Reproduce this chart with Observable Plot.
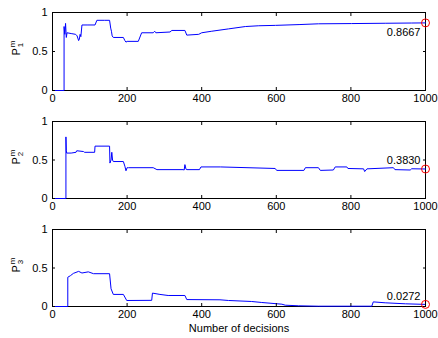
<!DOCTYPE html>
<html>
<head>
<meta charset="utf-8">
<script src="https://cdn.jsdelivr.net/npm/d3@7"></script>
<script src="https://cdn.jsdelivr.net/npm/@observablehq/plot@0.6"></script>
<style>
  html, body { margin: 0; padding: 0; background: #fff; }
  #wrap { position: relative; width: 438px; height: 338px; overflow: hidden; font-family: "Liberation Sans", Arial, sans-serif; }
  .panel { position: absolute; left: 0; }
  .ylab { position: absolute; transform: translate(-50%, -50%) rotate(-90deg); white-space: nowrap; font-size: 11px; line-height: 1; color: #000; }
  .ylab .stk { display: inline-block; vertical-align: middle; font-size: 8px; line-height: 1; text-align: left; margin-left: 1px; }
  .ylab .stk span { display: block; }
</style>
</head>
<body>
<div id="wrap"></div>
<script>
// ---- data ----
const xTicks = [0, 200, 400, 600, 800, 1000];
const yTicks = [0, 0.5, 1];
const seriesNames = ["1", "2", "3"];
const xLabel = "Number of decisions";

const xs1 = [0,31,31,33,35,37,39,50,62,66,70,72,74,76,79,95,114,119,140,153,156,158,160,163,190,194,197,200,230,239,270,274,277,315,320,355,360,392,400,427,472,517,553,598,661,713,802,892,963,1000];
const ys1 = [0,0,0.82,0.72,0.86,0.68,0.74,0.73,0.72,0.70,0.64,0.66,0.72,0.69,0.84,0.84,0.84,0.90,0.90,0.90,0.80,0.76,0.70,0.68,0.68,0.64,0.62,0.63,0.63,0.74,0.74,0.76,0.74,0.75,0.77,0.77,0.71,0.72,0.74,0.76,0.79,0.82,0.83,0.835,0.845,0.855,0.858,0.862,0.865,0.8667];

const xs2 = [0,36,36,37,38,50,63,65,83,86,113,114,153,154,157,159,161,163,190,194,197,200,204,270,280,350,353,355,358,360,394,398,450,597,601,674,678,713,718,753,758,789,792,834,837,843,914,918,959,963,1000];
const ys2 = [0,0,0.80,0.62,0.59,0.59,0.60,0.62,0.61,0.60,0.60,0.68,0.68,0.46,0.50,0.60,0.50,0.48,0.48,0.42,0.36,0.40,0.40,0.40,0.375,0.375,0.37,0.44,0.38,0.375,0.375,0.41,0.41,0.39,0.365,0.365,0.40,0.40,0.365,0.37,0.41,0.41,0.39,0.385,0.35,0.385,0.40,0.375,0.37,0.386,0.383];

const xs3 = [0,41,41,48,56,70,79,96,110,153,157,163,190,199,266,268,288,310,355,360,449,472,534,561,615,624,660,713,856,860,892,946,1000];
const ys3 = [0,0,0.38,0.40,0.43,0.456,0.435,0.45,0.426,0.426,0.23,0.157,0.157,0.078,0.08,0.174,0.157,0.143,0.143,0.09,0.087,0.078,0.065,0.052,0.03,0.017,0.009,0.004,0.004,0.06,0.048,0.035,0.0272];

// ---- layout ----
const panels = [
  {xs: xs1, ys: ys1, top: 0,   height: 110, mt: 12, mb: 20, dy: 10,  name: seriesNames[0], xlab: false},
  {xs: xs2, ys: ys2, top: 110, height: 108, mt: 11, mb: 20, dy: -9, name: seriesNames[1], xlab: false},
  {xs: xs3, ys: ys3, top: 218, height: 120, mt: 11, mb: 32, dy: -8, name: seriesNames[2], xlab: true}
];

const wrap = document.getElementById("wrap");
const fmtTick = d => String(d);

panels.forEach(p => {
  const data = p.xs.map((x, i) => ({x, y: p.ys[i]}));
  const last = data[data.length - 1];
  const marks = [
    Plot.frame({stroke: "black", strokeWidth: 1}),
    Plot.line(data, {x: "x", y: "y", stroke: "#0000ff", strokeWidth: 1}),
    Plot.dot([last], {x: "x", y: "y", r: 4, stroke: "red", fill: "none", strokeWidth: 1}),
    Plot.text([last], {x: "x", y: "y", text: d => d3.format(".4f")(d.y), textAnchor: "end", dx: -5, dy: p.dy, fontSize: 11, fill: "black"}),
    Plot.axisX(xTicks, {anchor: "bottom", tickSize: 0, tickPadding: 4, tickFormat: fmtTick, label: null, fontSize: 11}),
    Plot.axisX(xTicks, {anchor: "bottom", tickSize: -3, fill: "none", label: null}),
    Plot.axisX(xTicks, {anchor: "top", tickSize: -3, fill: "none", label: null}),
    Plot.axisY(yTicks, {anchor: "left", tickSize: 0, tickPadding: 5, tickFormat: fmtTick, label: null, fontSize: 11}),
    Plot.axisY(yTicks, {anchor: "left", tickSize: -3, fill: "none", label: null}),
    Plot.axisY(yTicks, {anchor: "right", tickSize: -3, fill: "none", label: null})
  ];
  if (p.xlab) marks.push(Plot.text([xLabel], {text: d => d, frameAnchor: "bottom", lineAnchor: "middle", dy: 22, fontSize: 11, fill: "black"}));
  const chart = Plot.plot({
    width: 438,
    height: p.height,
    marginLeft: 52,
    marginRight: 13,
    marginTop: p.mt,
    marginBottom: p.mb,
    x: {domain: [0, 1000]},
    y: {domain: [0, 1]},
    style: {fontFamily: "'Liberation Sans', Arial, sans-serif", fontSize: "11px", color: "black", background: "transparent"},
    marks
  });
  const holder = document.createElement("div");
  holder.className = "panel";
  holder.style.top = p.top + "px";
  holder.appendChild(chart);
  wrap.appendChild(holder);

  const lab = document.createElement("div");
  lab.className = "ylab";
  lab.style.left = "17px";
  lab.style.top = (p.top + p.mt + (p.height - p.mt - p.mb) / 2 - 3) + "px";
  lab.innerHTML = 'P<span class="stk"><span>m</span><span>' + p.name + '</span></span>';
  wrap.appendChild(lab);
});
</script>
</body>
</html>
